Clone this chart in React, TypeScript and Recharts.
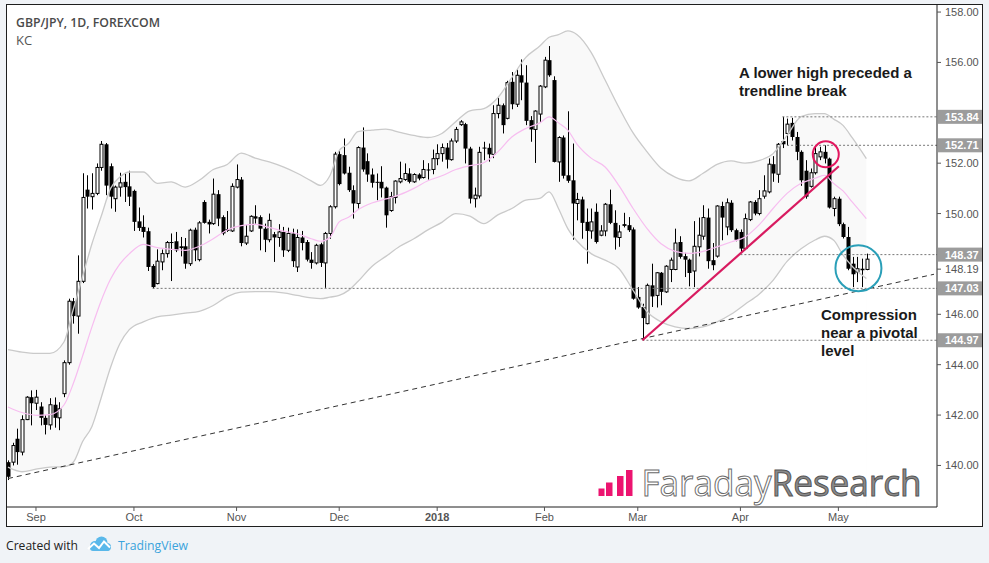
import React from 'react';
import { ComposedChart, Bar, Line, Area, XAxis, YAxis, ReferenceLine, ReferenceDot } from 'recharts';

// Daily candles [open, high, low, close]; index 0 = 24 Aug 2017
const candlesAug: number[][] = [
  [140.13, 140.2, 139.42, 139.55], [140.13, 140.9, 140.0, 140.79], [141.06, 141.46, 140.03, 140.53],
  [140.53, 141.99, 140.4, 141.82], [141.82, 142.75, 141.8, 142.71], [142.71, 142.98, 141.59, 142.47],
];
const candlesSep: number[][] = [
  [142.47, 143.0, 142.2, 142.71], [142.34, 142.51, 141.59, 141.89], [141.89, 141.99, 141.23, 141.61],
  [141.61, 142.67, 141.42, 142.41], [142.41, 142.7, 141.5, 141.89], [141.89, 142.51, 141.4, 142.25],
  [142.85, 144.17, 142.71, 144.08], [144.08, 146.62, 144.0, 146.52], [146.52, 146.65, 145.63, 145.93],
  [145.93, 148.34, 145.23, 147.31], [147.31, 151.6, 147.24, 150.64], [150.95, 151.52, 150.2, 150.67],
  [150.67, 151.6, 150.16, 150.8], [150.8, 151.99, 150.73, 151.83], [151.83, 152.88, 151.7, 152.75],
  [152.75, 152.8, 150.73, 151.11], [151.88, 151.99, 150.2, 150.67], [150.59, 151.11, 150.07, 151.05],
  [151.05, 151.62, 150.67, 151.22], [151.26, 151.59, 150.46, 151.05], [151.08, 151.7, 150.3, 150.67],
];
const candlesOct: number[][] = [
  [150.9, 150.95, 149.31, 149.67], [149.69, 150.24, 149.31, 149.43], [149.47, 149.93, 149.05, 149.27],
  [149.3, 149.44, 147.72, 147.88], [147.92, 147.99, 147.03, 147.08], [147.22, 148.58, 147.19, 148.11],
  [148.08, 148.57, 147.75, 148.41], [148.41, 148.91, 148.25, 148.85], [148.87, 149.21, 147.32, 148.83],
  [148.9, 149.27, 148.47, 148.54], [148.7, 149.07, 148.3, 148.63], [148.7, 149.03, 147.81, 148.01],
  [148.01, 149.4, 147.92, 149.34], [149.36, 149.44, 148.11, 148.54], [148.17, 149.7, 148.1, 149.63],
  [150.46, 150.53, 149.6, 149.63], [149.67, 149.76, 149.21, 149.57], [149.6, 151.39, 149.55, 150.77],
  [150.77, 150.93, 149.5, 149.8], [149.86, 149.93, 149.14, 149.21], [149.38, 150.1, 149.27, 149.31],
  [149.31, 151.2, 149.27, 151.08],
];
const candlesNov: number[][] = [
  [151.05, 151.95, 151.0, 151.35], [151.35, 151.45, 148.7, 148.83], [148.83, 149.54, 148.75, 149.1],
  [149.31, 149.93, 149.27, 149.89], [149.89, 150.33, 149.6, 149.8], [149.86, 149.93, 148.54, 149.4],
  [149.4, 149.6, 148.47, 148.96], [148.96, 150.0, 148.86, 149.73], [149.18, 149.27, 148.08, 149.05],
  [149.05, 149.58, 148.68, 149.27], [149.27, 149.47, 148.28, 148.54], [148.54, 149.44, 148.47, 149.21],
  [149.21, 149.4, 147.88, 148.11], [147.88, 149.37, 147.68, 149.05], [149.05, 149.31, 148.54, 148.83],
  [148.87, 148.95, 148.1, 148.17], [148.17, 148.47, 147.81, 148.04], [148.04, 148.8, 147.98, 148.74],
  [148.78, 148.84, 147.88, 148.04], [148.04, 149.27, 147.05, 149.21], [149.21, 150.33, 149.0, 150.27],
  [150.27, 152.45, 150.2, 152.36],
];
const candlesDec: number[][] = [
  [152.36, 152.51, 151.12, 151.17], [152.32, 152.98, 151.55, 151.59], [151.62, 151.86, 150.86, 150.93],
  [150.93, 151.12, 149.8, 150.4], [150.4, 152.67, 150.2, 152.62], [152.62, 153.42, 151.66, 151.75],
  [152.08, 152.39, 151.26, 151.55], [151.55, 151.79, 151.03, 151.22], [151.26, 151.59, 150.53, 151.22],
  [151.26, 151.88, 150.64, 151.0], [151.03, 151.07, 149.44, 149.93], [150.12, 150.86, 150.07, 150.67],
  [150.64, 151.32, 150.4, 151.29], [151.26, 152.06, 151.2, 151.39], [151.35, 151.99, 151.3, 151.59],
  [151.59, 151.8, 151.2, 151.26], [151.26, 151.6, 151.22, 151.55], [151.55, 151.6, 151.32, 151.39],
  [151.43, 152.12, 151.39, 151.75], [151.75, 152.0, 151.35, 151.72], [151.75, 152.54, 151.56, 152.18],
];
const candlesJan: number[][] = [
  [152.18, 152.75, 151.92, 152.38], [152.38, 152.78, 152.06, 152.62], [152.62, 152.8, 151.79, 152.14],
  [152.14, 152.98, 152.1, 152.88], [152.88, 153.44, 152.8, 153.34], [153.53, 153.71, 153.48, 153.64],
  [153.55, 153.6, 151.99, 152.58], [152.58, 152.65, 150.4, 150.59], [150.59, 151.03, 150.24, 150.73],
  [150.7, 152.65, 150.6, 152.43], [152.62, 152.85, 152.12, 152.58], [152.61, 152.78, 152.06, 152.35],
  [152.35, 154.3, 152.2, 153.97], [153.97, 154.6, 153.78, 154.3], [154.3, 154.37, 153.18, 153.51],
  [153.78, 155.27, 153.74, 155.2], [155.23, 155.62, 154.14, 154.34], [154.34, 155.72, 154.23, 155.49],
  [155.49, 156.12, 154.5, 155.2], [155.2, 155.89, 153.51, 153.68], [153.71, 153.87, 152.85, 153.34],
  [153.34, 154.1, 152.01, 154.07], [153.95, 155.1, 153.64, 155.06],
];
const candlesFeb: number[][] = [
  [155.03, 156.22, 154.98, 156.09], [156.09, 156.65, 155.43, 155.49], [155.3, 155.45, 152.03, 152.05],
  [152.05, 153.07, 151.26, 153.02], [153.02, 153.1, 151.39, 151.5], [151.52, 154.06, 151.22, 151.3],
  [151.32, 152.78, 148.96, 150.4], [150.4, 150.82, 149.73, 150.56], [150.56, 150.67, 149.0, 149.63],
  [149.67, 150.2, 148.01, 149.31], [149.31, 150.2, 149.0, 149.67], [150.07, 150.4, 148.81, 148.87],
  [149.14, 149.54, 149.1, 149.31], [149.31, 150.42, 149.1, 150.37], [150.37, 150.95, 149.58, 149.63],
  [149.63, 150.13, 148.57, 149.05], [149.05, 149.54, 148.68, 149.27], [149.58, 150.03, 149.45, 149.51],
  [149.54, 149.86, 149.27, 149.34], [149.37, 149.45, 146.58, 146.62],
];
const candlesMar: number[][] = [
  [146.69, 147.08, 146.22, 146.27], [146.29, 146.42, 144.97, 145.85], [145.63, 147.22, 145.6, 147.15],
  [147.15, 148.01, 146.29, 146.71], [146.75, 147.68, 146.27, 147.65], [147.65, 147.68, 146.36, 146.89],
  [146.89, 147.95, 146.85, 147.91], [147.78, 148.25, 147.28, 148.15], [147.78, 149.4, 147.75, 148.83],
  [148.87, 149.1, 148.21, 148.28], [148.31, 148.44, 147.48, 148.17], [148.17, 148.21, 147.11, 147.64],
  [147.72, 149.7, 147.08, 148.7], [148.68, 149.84, 148.3, 149.14], [149.1, 150.33, 148.96, 149.84],
  [149.84, 150.2, 147.81, 148.11], [148.15, 148.83, 147.75, 147.95], [148.31, 150.33, 148.25, 150.3],
  [150.3, 150.47, 148.94, 149.84], [149.47, 150.6, 149.14, 150.43], [150.43, 150.53, 149.27, 149.34],
  [149.34, 149.4, 148.9, 148.96],
];
const candlesApr: number[][] = [
  [149.27, 149.37, 148.47, 148.61], [148.61, 150.0, 148.55, 149.8], [149.76, 150.5, 149.7, 150.46],
  [150.46, 150.53, 149.93, 150.0], [150.0, 150.93, 149.93, 150.59], [150.69, 151.52, 150.59, 150.9],
  [150.86, 152.19, 150.8, 151.96], [151.96, 152.28, 151.26, 151.59], [151.56, 152.8, 151.22, 152.75],
  [152.88, 153.84, 152.6, 152.75], [153.18, 153.77, 152.71, 153.55], [153.6, 153.8, 152.9, 153.04],
  [153.04, 153.24, 152.12, 152.45], [152.45, 152.51, 151.1, 151.32], [151.7, 152.12, 150.59, 150.67],
  [151.08, 151.79, 151.03, 151.62], [151.62, 152.65, 151.55, 152.38], [152.25, 152.65, 152.12, 152.45],
  [152.45, 152.71, 151.99, 152.18], [152.18, 152.22, 150.2, 150.24], [150.2, 150.67, 149.89, 150.59],
];
const candlesMay: number[][] = [
  [150.59, 150.67, 149.5, 149.58], [149.58, 149.64, 149.01, 149.07], [149.07, 149.47, 147.75, 147.81],
  [148.01, 148.28, 147.08, 147.59], [147.68, 148.28, 147.28, 147.81], [147.81, 148.21, 147.08, 147.75],
  [147.78, 148.41, 147.75, 148.19],
];

// Keltner channel, read at sampled bars
const kcIdx = [0, 3, 6, 9, 12, 14, 16, 18, 20, 22, 24, 26, 29, 32, 35, 38, 41, 44, 47, 50, 53, 56, 59, 62, 65, 67, 69, 71, 73, 75, 78, 81, 84, 87, 90, 93, 96, 99, 102, 105, 108, 111, 114, 116, 118, 120, 122, 125, 128, 131, 134, 137, 140, 143, 146, 149, 152, 155, 158, 161, 164, 167, 170, 173, 175, 177, 179, 181, 184];
const kcUpper = [144.6, 144.5, 144.45, 144.45, 144.9, 146.2, 147.5, 148.8, 149.9, 151.0, 151.45, 151.65, 151.65, 151.2, 151.26, 151.05, 151.32, 151.75, 151.95, 152.4, 152.2, 152.05, 151.85, 151.6, 151.3, 151.12, 151.5, 152.5, 152.78, 153.25, 153.31, 153.35, 153.22, 153.1, 153.02, 153.18, 153.65, 154.08, 154.17, 154.6, 155.4, 156.2, 156.65, 157.0, 157.1, 157.25, 157.1, 156.4, 155.3, 154.2, 153.2, 152.45, 151.8, 151.45, 151.3, 151.6, 151.95, 152.09, 152.0, 152.1, 152.38, 153.1, 153.85, 153.97, 153.97, 153.75, 153.5, 153.0, 152.18];
const kcMiddle = [142.32, 142.1, 141.99, 142.02, 142.4, 143.25, 144.35, 145.5, 146.55, 147.4, 148.0, 148.4, 148.78, 148.65, 148.58, 148.54, 148.7, 149.0, 149.35, 149.52, 149.57, 149.45, 149.3, 149.2, 149.0, 148.9, 149.05, 149.67, 149.85, 150.15, 150.42, 150.58, 150.75, 151.0, 151.3, 151.5, 151.75, 151.9, 152.02, 152.45, 153.04, 153.38, 153.6, 153.84, 153.6, 153.31, 152.75, 152.2, 151.85, 151.1, 150.2, 149.4, 148.8, 148.5, 148.42, 148.5, 148.68, 148.87, 149.07, 149.55, 150.2, 150.8, 151.2, 151.4, 151.52, 151.19, 150.9, 150.45, 149.8];
const kcLower = [139.93, 139.75, 139.85, 139.93, 139.95, 140.13, 140.95, 141.55, 142.7, 143.9, 144.84, 145.39, 145.7, 145.9, 145.97, 146.05, 146.12, 146.35, 146.7, 146.88, 146.9, 146.9, 146.85, 146.75, 146.65, 146.62, 146.68, 146.75, 146.95, 147.3, 147.9, 148.3, 148.7, 149.0, 149.35, 149.65, 150.0, 149.9, 149.6, 149.95, 150.2, 150.53, 150.6, 150.86, 150.2, 149.4, 148.9, 148.41, 148.15, 147.81, 146.95, 146.1, 145.7, 145.5, 145.43, 145.5, 145.7, 146.0, 146.4, 146.8, 147.35, 148.1, 148.6, 148.95, 149.1, 148.94, 148.35, 147.9, 147.42];

// Axis ticks
const monthTickIdx = [6, 27, 49, 71, 92, 115, 135, 157, 178];
const monthTickLabels = ['Sep', 'Oct', 'Nov', 'Dec', '2018', 'Feb', 'Mar', 'Apr', 'May'];
const priceTicks = [140, 142, 144, 146, 150, 152, 156, 158];
const levelValues = [153.84, 152.71, 148.37, 147.03, 144.97];
const levelStartIdx = [166, 167, 157, 31, 136];
const lastPrice = 148.19;

// Drawn studies
const dashedTrend = [[0, 139.48], [198.5, 147.59]];
const pinkTrend = [[136, 144.97], [178.1, 151.88]];
const pinkCircle = [175.3, 152.35];
const tealCircle = [182.3, 147.83];

const X_DOMAIN: [number, number] = [-0.21, 199.14];
const Y_DOMAIN: [number, number] = [138.35, 158.28];

const candles = [
  ...candlesAug, ...candlesSep, ...candlesOct, ...candlesNov, ...candlesDec,
  ...candlesJan, ...candlesFeb, ...candlesMar, ...candlesApr, ...candlesMay,
];
const kcPos = new Map<number, number>(kcIdx.map((ix, k) => [ix, k]));
const chartData = candles.map((cd, i) => {
  const k = kcPos.get(i);
  return {
    i, o: cd[0], h: cd[1], l: cd[2], c: cd[3],
    u: k != null ? kcUpper[k] : null,
    m: k != null ? kcMiddle[k] : null,
    lo: k != null ? kcLower[k] : null,
  };
});

const AXIS_FONT = "Arial, 'Liberation Sans', sans-serif";

function Candle(props: any) {
  const { x, y, width, height, payload } = props;
  if (!payload || x == null || y == null) return null;
  const { o, h, l, c } = payload;
  const top = Math.min(y, y + height);
  const bot = Math.max(y, y + height);
  const k = h - l > 0 ? (bot - top) / (h - l) : 0;
  const py = (v: number) => top + (h - v) * k;
  const cx = Math.round(x + width / 2) + 0.5;
  const up = c >= o;
  const b1 = py(Math.max(o, c));
  const b2 = py(Math.min(o, c));
  const bh = Math.max(1, b2 - b1);
  return (
    <g>
      <line x1={cx} x2={cx} y1={top} y2={bot} stroke="#000" strokeWidth={1} />
      {up ? (
        <rect x={cx - 1.5} y={b1} width={3} height={bh} fill="#fff" stroke="#000" strokeWidth={1} />
      ) : (
        <rect x={cx - 2} y={b1} width={4} height={bh} fill="#000" />
      )}
    </g>
  );
}

function PriceTick(props: any) {
  const { x, y, payload } = props;
  const v: number = payload.value;
  const ax = x - 8;
  if (levelValues.includes(v)) {
    return (
      <g>
        <rect x={ax + 1} y={y - 7} width={44} height={14} fill="#9c9c9c" />
        <text x={x} y={y} dy="0.36em" fill="#fff" fontSize={11} fontWeight="bold" fontFamily={AXIS_FONT}>{v.toFixed(2)}</text>
      </g>
    );
  }
  const yy = v === lastPrice ? y + 10 : y;
  return (
    <g>
      <line x1={ax} x2={ax + 4} y1={yy} y2={yy} stroke="#555" />
      <text x={x} y={yy} dy="0.36em" fill="#555" fontSize={11} fontFamily={AXIS_FONT}>{v.toFixed(2)}</text>
    </g>
  );
}

function MonthTick(props: any) {
  const { x, y, payload } = props;
  const k = monthTickIdx.indexOf(payload.value);
  const label = k >= 0 ? monthTickLabels[k] : '';
  return (
    <text x={x} y={y} dy="0.71em" textAnchor="middle" fill="#555" fontSize={11}
      fontWeight={label === '2018' ? 'bold' : 'normal'} fontFamily={AXIS_FONT}>{label}</text>
  );
}

export default function App() {
  return (
    <div style={{ position: 'absolute', left: 0, top: 0, width: 989, height: 563, background: '#f0f3f7', overflow: 'hidden' }}>
      <div style={{ position: 'absolute', left: 6, top: 4, width: 975, height: 521, border: '1px solid #1e1e1e', background: '#fff' }}>
        <ComposedChart width={975} height={521} data={chartData} margin={{ top: 0, right: 0, bottom: 0, left: 0 }}>
          <XAxis type="number" dataKey="i" domain={X_DOMAIN} allowDataOverflow ticks={monthTickIdx} interval={0}
            tick={<MonthTick />} tickSize={4} tickMargin={2} height={19} axisLine={{ stroke: '#1e1e1e' }} tickLine={{ stroke: '#555' }} />
          <YAxis orientation="right" type="number" domain={Y_DOMAIN} allowDataOverflow
            ticks={[...priceTicks, ...levelValues, lastPrice]} interval={0} width={45}
            tick={<PriceTick />} tickLine={false} tickSize={4} tickMargin={4} axisLine={{ stroke: '#1e1e1e' }} />
          <Area dataKey="u" type="monotone" connectNulls stroke="none" fill="#f9f9f9" fillOpacity={1} isAnimationActive={false} dot={false} activeDot={false} />
          <Area dataKey="lo" type="monotone" connectNulls stroke="none" fill="#ffffff" fillOpacity={1} isAnimationActive={false} dot={false} activeDot={false} />
          <Line dataKey="u" type="monotone" connectNulls stroke="#cacaca" strokeWidth={1.3} dot={false} activeDot={false} isAnimationActive={false} />
          <Line dataKey="lo" type="monotone" connectNulls stroke="#cacaca" strokeWidth={1.3} dot={false} activeDot={false} isAnimationActive={false} />
          <Line dataKey="m" type="monotone" connectNulls stroke="#f7bdf0" strokeWidth={1.2} dot={false} activeDot={false} isAnimationActive={false} />
          {levelValues.map((v, k) => (
            <ReferenceLine key={v} ifOverflow="hidden" stroke="#777" strokeDasharray="2 2"
              segment={[{ x: levelStartIdx[k], y: v }, { x: X_DOMAIN[1], y: v }]} />
          ))}
          <ReferenceLine ifOverflow="hidden" stroke="#333" strokeDasharray="5 4" strokeWidth={1}
            segment={[{ x: dashedTrend[0][0], y: dashedTrend[0][1] }, { x: dashedTrend[1][0], y: dashedTrend[1][1] }]} />
          <Bar dataKey={(d: any) => [d.l, d.h]} barSize={3} shape={<Candle />} isAnimationActive={false} />
          <ReferenceLine ifOverflow="hidden" stroke="#d81b60" strokeWidth={2.2}
            segment={[{ x: pinkTrend[0][0], y: pinkTrend[0][1] }, { x: pinkTrend[1][0], y: pinkTrend[1][1] }]} />
          <ReferenceDot x={pinkCircle[0]} y={pinkCircle[1]} r={13} fill="none" stroke="#e3175f" strokeWidth={2} />
          <ReferenceDot x={tealCircle[0]} y={tealCircle[1]} r={23} fill="none" stroke="#2a9fb8" strokeWidth={2} />
        </ComposedChart>
      </div>
      <svg width={989} height={563} style={{ position: 'absolute', left: 0, top: 0, pointerEvents: 'none' }}>
        <text x={16} y={26.5} fontSize={13} fontWeight={600} fill="#4a4a4a" fontFamily="'Open Sans', sans-serif" textLength={144} lengthAdjust="spacingAndGlyphs">GBP/JPY, 1D, FOREXCOM</text>
        <text x={16} y={45} fontSize={13} fill="#555" fontFamily="'Open Sans', sans-serif">KC</text>
        <g fontFamily={AXIS_FONT} fontWeight="bold" fontSize={15} fill="#1a1a1a">
          <text x={739} y={77.5}>A lower high preceded a</text>
          <text x={739} y={95.5}>trendline break</text>
          <text x={821} y={319.5}>Compression</text>
          <text x={821} y={337.5}>near a pivotal</text>
          <text x={821} y={355.5}>level</text>
        </g>
        <g fill="#ec1470">
          <rect x={598.5} y={488.5} width={6} height={7.5} />
          <rect x={606} y={482.5} width={6.5} height={13.5} />
          <rect x={617} y={476} width={6.5} height={20} />
          <rect x={626} y={470} width={6.5} height={26} />
        </g>
        <text x={641.5} y={495.5} fontSize={37} fontFamily="'Open Sans', sans-serif" textLength={280} lengthAdjust="spacingAndGlyphs">
          <tspan fill="#ffffff" stroke="#6a6a6a" strokeWidth={1}>Faraday</tspan>
          <tspan fill="#8a8a8a" stroke="#555" strokeWidth={1}>Research</tspan>
        </text>
        <text x={6} y={549.5} fontSize={13.5} fill="#222" fontFamily="'Open Sans', sans-serif" textLength={72} lengthAdjust="spacingAndGlyphs">Created with</text>
        <g>
          <circle cx={95} cy={546} r={5} fill="#5ab8ea" />
          <circle cx={101.5} cy={542.5} r={6} fill="#5ab8ea" />
          <circle cx={107} cy={547} r={4} fill="#5ab8ea" />
          <rect x={90} y={545} width={20} height={6} rx={3} fill="#5ab8ea" />
          <polyline points="88,549 94,543.5 99,548 104,541.5 110,547.5" fill="none" stroke="#fff" strokeWidth={2} />
        </g>
        <text x={118} y={549.5} fontSize={13.5} fill="#3aa3dc" fontFamily="'Open Sans', sans-serif" textLength={70} lengthAdjust="spacingAndGlyphs">TradingView</text>
      </svg>
    </div>
  );
}
